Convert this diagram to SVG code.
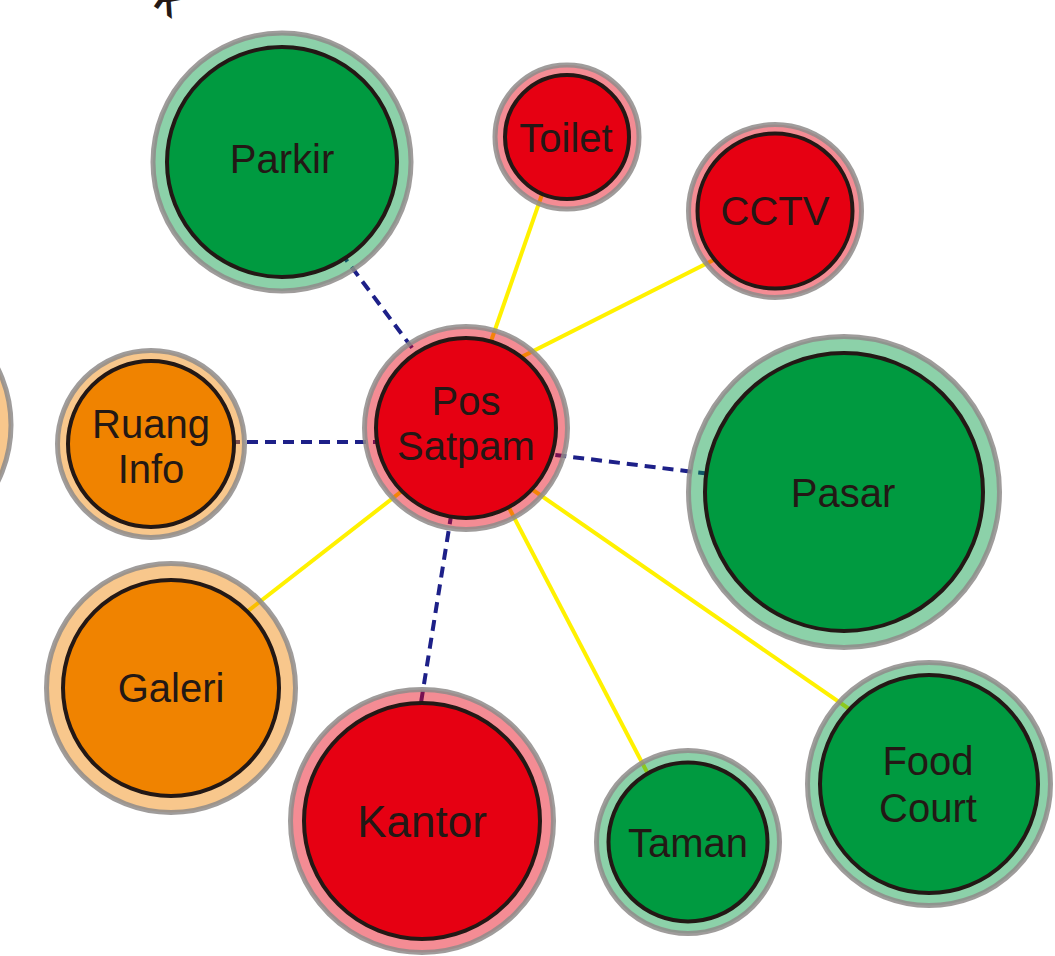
<svg xmlns="http://www.w3.org/2000/svg" width="1055" height="956" viewBox="0 0 1055 956">
  <style>
    .halo { stroke: #8e8b89; stroke-width: 5; stroke-opacity: 0.85; fill-opacity: 0.45; }
    .core { stroke: #231815; stroke-width: 4; }
    .red { fill: #e60012; }
    .green { fill: #009a40; }
    .orange { fill: #f08300; }
    .label { font-family: "Liberation Sans", Arial, sans-serif; font-size: 40px; fill: #231815; text-anchor: middle; }
    .solid { stroke: #fff100; stroke-width: 4; fill: none; }
    .dash { stroke: #1d2088; stroke-width: 4; stroke-dasharray: 11 7; fill: none; }
  </style>

  <!-- clipped heading fragment at the top edge -->
  <text x="0" y="0" transform="translate(152,5) rotate(35)" style="font-family: 'Liberation Sans', Arial, sans-serif; font-size: 34px; font-weight: bold; fill: #231815;">K</text>

  <!-- connectors from the security post -->
  <g id="connectors">
    <line class="solid" x1="465" y1="416" x2="554" y2="160"/>
    <line class="solid" x1="470" y1="383" x2="765" y2="234"/>
    <line class="solid" x1="443" y1="459" x2="212" y2="639"/>
    <line class="solid" x1="483" y1="458" x2="672" y2="820"/>
    <line class="solid" x1="494" y1="463" x2="894" y2="740"/>
    <line class="dash" x1="466" y1="420" x2="294" y2="190"/>
    <line class="dash" x1="420" y1="442" x2="200" y2="442"/>
    <line class="dash" x1="466" y1="444" x2="800" y2="485"/>
    <line class="dash" x1="460" y1="460" x2="415" y2="740"/>
  </g>

  <!-- partial node at the left edge -->
  <g id="node-left-edge">
    <circle class="halo orange" cx="-117" cy="425" r="128"/>
  </g>

  <g id="node-parkir">
    <circle class="halo green" cx="282" cy="162" r="129"/>
    <circle class="core green" cx="282" cy="162" r="115"/>
    <text class="label" x="282" y="173">Parkir</text>
  </g>

  <g id="node-toilet">
    <circle class="halo red" cx="567" cy="137" r="72"/>
    <circle class="core red" cx="567" cy="137" r="62"/>
    <text class="label" x="566" y="152">Toilet</text>
  </g>

  <g id="node-cctv">
    <circle class="halo red" cx="775" cy="211" r="86.5"/>
    <circle class="core red" cx="775" cy="211" r="77.5"/>
    <text class="label" x="775" y="225">CCTV</text>
  </g>

  <g id="node-pos-satpam">
    <circle class="halo red" cx="466" cy="428" r="101.5"/>
    <circle class="core red" cx="466" cy="428" r="90"/>
    <text class="label" x="466" y="415">Pos</text>
    <text class="label" x="466" y="460">Satpam</text>
  </g>

  <g id="node-ruang-info">
    <circle class="halo orange" cx="151" cy="444" r="93.5"/>
    <circle class="core orange" cx="151" cy="444" r="83"/>
    <text class="label" x="151" y="438">Ruang</text>
    <text class="label" x="151" y="483">Info</text>
  </g>

  <g id="node-pasar">
    <circle class="halo green" cx="844" cy="492" r="155.5"/>
    <circle class="core green" cx="844" cy="492" r="139"/>
    <text class="label" x="843" y="507">Pasar</text>
  </g>

  <g id="node-galeri">
    <circle class="halo orange" cx="171" cy="688" r="124.5"/>
    <circle class="core orange" cx="171" cy="688" r="108"/>
    <text class="label" x="171" y="702">Galeri</text>
  </g>

  <g id="node-kantor">
    <circle class="halo red" cx="422" cy="821" r="131.5"/>
    <circle class="core red" cx="422" cy="821" r="118"/>
    <text class="label" x="422" y="837" style="font-size: 44px;">Kantor</text>
  </g>

  <g id="node-taman">
    <circle class="halo green" cx="688" cy="842" r="91.5"/>
    <circle class="core green" cx="688" cy="842" r="79.5"/>
    <text class="label" x="688" y="857">Taman</text>
  </g>

  <g id="node-food-court">
    <circle class="halo green" cx="929" cy="784" r="121.5"/>
    <circle class="core green" cx="929" cy="784" r="109"/>
    <text class="label" x="928" y="775">Food</text>
    <text class="label" x="928" y="822">Court</text>
  </g>
</svg>
